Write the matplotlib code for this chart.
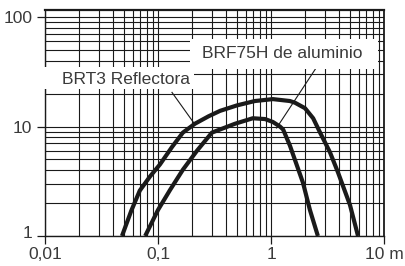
import matplotlib
matplotlib.use('Agg')
import matplotlib.pyplot as plt
from matplotlib.patches import Rectangle
from matplotlib.transforms import ScaledTranslation

plt.rcParams['font.family'] = ['Liberation Sans', 'DejaVu Sans']

# distance (m) and value
dist_brt3 = [0.048, 0.058, 0.069, 0.085, 0.104, 0.133, 0.166, 0.212, 0.28, 0.354,
             0.5, 0.72, 1.04, 1.47, 1.63, 2.0, 2.36, 2.72, 3.33, 3.92, 5.0, 5.89]
val_brt3 = [1.0, 1.7, 2.6, 3.5, 4.5, 6.5, 8.8, 10.6, 12.4, 13.9,
            15.6, 17.1, 17.8, 17.1, 16.5, 14.7, 11.9, 8.8, 5.8, 3.8, 1.92, 1.0]

dist_brf = [0.077, 0.1, 0.128, 0.166, 0.221, 0.30, 0.48, 0.69, 0.886, 1.04,
            1.2, 1.28, 1.47, 1.92, 2.21, 2.6]
val_brf = [1.0, 1.73, 2.64, 4.03, 6.0, 8.8, 10.6, 11.9, 11.7, 11.0,
           10.0, 9.4, 6.7, 3.06, 1.73, 1.0]

x_ticks = [0.01, 0.1, 1, 10]
x_labels = ['0,01', '0,1', '1', '10 m']
y_ticks = [1, 10, 100]
y_labels = ['1', '10', '100']

label_brt3 = 'BRT3 Reflectora'
label_brf = 'BRF75H de aluminio'
leader_brt3 = ([0.133, 0.21], [20.5, 10.6])
leader_brf = ([2.54, 1.12], [35.0, 9.7])

W, H = 406, 266
fig = plt.figure(figsize=(W / 100, H / 100), dpi=100)
ax = fig.add_axes([45 / W, 1 - 236 / H, (384 - 45) / W, (236 - 10) / H])
ax.set_xscale('log')
ax.set_yscale('log')
ax.set_xlim(0.01, 10)
ax.set_ylim(1, 116)

ax.grid(which='both', color='#1a1a1a', linewidth=0.8)
ax.set_axisbelow(True)
ax.set_xticks(x_ticks)
ax.set_xticklabels(x_labels)
ax.set_yticks(y_ticks)
ax.set_yticklabels(y_labels)
ax.tick_params(which='major', length=6, width=0.9, color='#1a1a1a',
               labelsize=12.5, labelcolor='#3a3a3a')
ax.tick_params(axis='x', which='major', pad=2)
ax.tick_params(axis='y', which='major', pad=3)
ax.tick_params(which='minor', length=0)
for name, sp in ax.spines.items():
    sp.set_color('#1a1a1a')
    sp.set_linewidth(1.0)
ax.spines['top'].set_linewidth(1.6)
ax.spines['right'].set_linewidth(1.3)

# the "1" label sits slightly above its tick in the original
ylab = ax.get_yticklabels()[0]
ylab.set_transform(ylab.get_transform() + ScaledTranslation(0, 4 / 100, fig.dpi_scale_trans))

ax.plot(dist_brt3, val_brt3, color='#1a1a1a', linewidth=3.0,
        solid_joinstyle='round', solid_capstyle='butt', zorder=4)
ax.plot(dist_brf, val_brf, color='#1a1a1a', linewidth=3.0,
        solid_joinstyle='round', solid_capstyle='butt', zorder=4)

ax.plot(*leader_brt3, color='#1a1a1a', linewidth=0.8, zorder=3)
ax.plot(*leader_brf, color='#1a1a1a', linewidth=0.8, zorder=3)


def px_rect(x0, y0, x1, y1):
    return Rectangle((x0 / W, 1 - y1 / H), (x1 - x0) / W, (y1 - y0) / H,
                     transform=fig.transFigure, facecolor='white',
                     edgecolor='none', zorder=5)


fig.patches.append(px_rect(38, 67, 194, 89))
fig.patches.append(px_rect(190, 39, 378, 69))
fig.text(62 / W, 1 - 79 / H, label_brt3, fontsize=12.5, color='#3a3a3a',
         ha='left', va='center', zorder=6)
fig.text(202 / W, 1 - 53 / H, label_brf, fontsize=12.5, color='#3a3a3a',
         ha='left', va='center', zorder=6)

fig.savefig('out.png', dpi=100)
